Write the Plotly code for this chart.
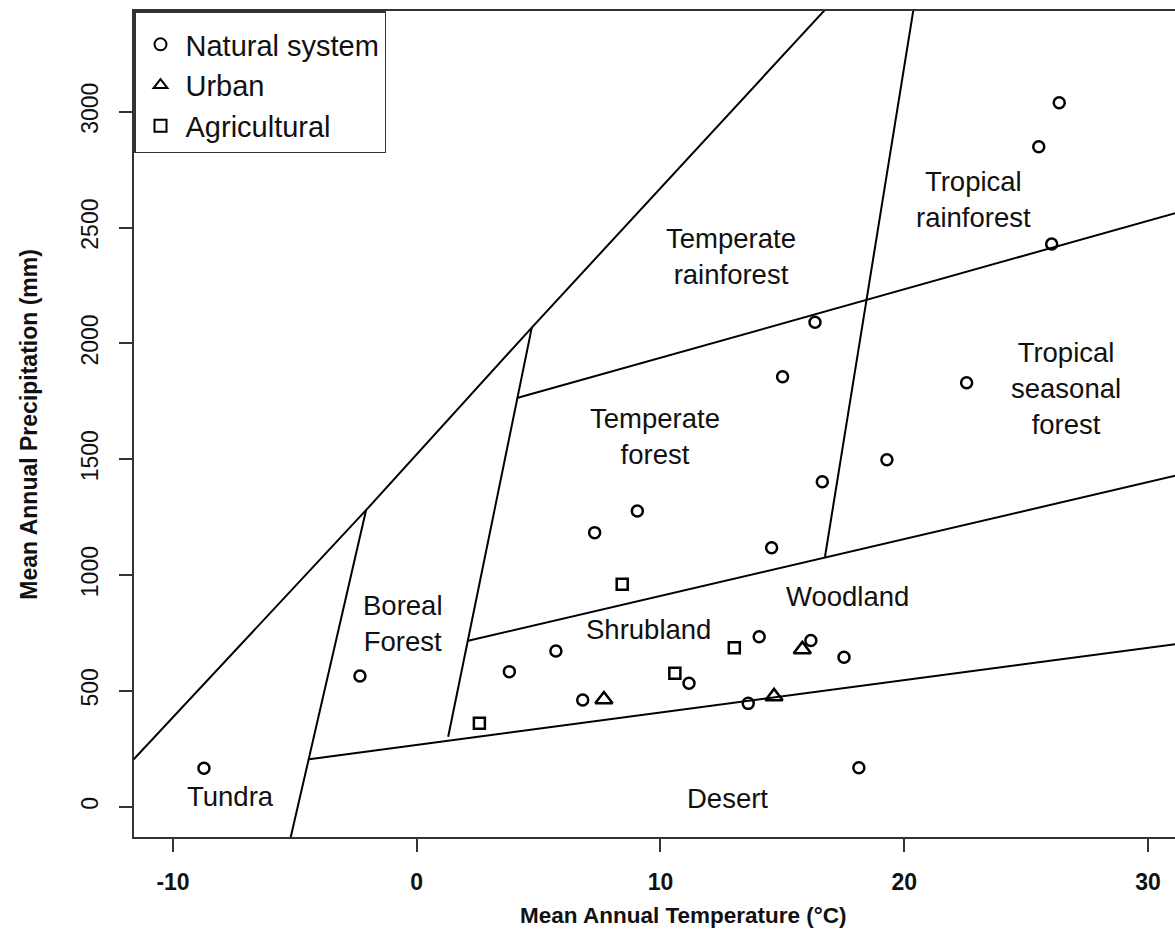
import plotly.graph_objects as go

# ---------------- data ----------------
# Natural system sites (temperature °C, precipitation mm)
natural_temp = [-8.73, -2.33, 3.80, 5.71, 6.81, 7.30, 9.05, 11.17, 13.60, 14.05, 14.56,
                15.01, 16.17, 16.34, 16.64, 17.53, 18.14, 19.29, 22.56, 25.52, 26.05, 26.36]
natural_prec = [166, 564, 583, 672, 461, 1183, 1276, 533, 446, 734, 1118,
                1856, 717, 2091, 1403, 645, 168, 1498, 1830, 2849, 2429, 3039]
# Urban sites
urban_temp = [7.68, 14.66, 15.82]
urban_prec = [463, 476, 679]
# Agricultural sites
agri_temp = [2.57, 8.43, 10.59, 13.03]
agri_prec = [360, 960, 576, 686]

# Biome boundary lines (vertices, temperature / precipitation)
bound_diag_t = [-11.8, -2.08, 4.72, 17.2]
bound_diag_p = [183, 1280, 2068, 3491]
bound_boreal_left_t = [-5.32, -2.08]
bound_boreal_left_p = [-200, 1280]
bound_desert_t = [-4.41, 32.0]
bound_desert_p = [205, 714]
bound_boreal_right_t = [4.72, 1.29]
bound_boreal_right_p = [2068, 302]
bound_shrub_t = [2.11, 32.0]
bound_shrub_p = [716, 1450]
bound_tempforest_t = [4.15, 32.0]
bound_tempforest_p = [1765, 2588]
bound_tropical_t = [20.47, 16.75]
bound_tropical_p = [3500, 1079]

boundaries = [
    (bound_diag_t, bound_diag_p),
    (bound_boreal_left_t, bound_boreal_left_p),
    (bound_desert_t, bound_desert_p),
    (bound_boreal_right_t, bound_boreal_right_p),
    (bound_shrub_t, bound_shrub_p),
    (bound_tempforest_t, bound_tempforest_p),
    (bound_tropical_t, bound_tropical_p),
]

# Biome labels
biome_names = ["Temperate<br>rainforest", "Tropical<br>rainforest", "Tropical<br>seasonal<br>forest",
               "Temperate<br>forest", "Boreal<br>Forest", "Shrubland", "Woodland", "Tundra", "Desert"]
biome_temp = [12.90, 22.83, 26.62, 9.78, -0.58, 9.49, 17.67, -7.64, 12.75]
biome_prec = [2373, 2623, 1803, 1600, 789, 763, 906, 43, 36]

# Axis ticks
x_ticks = [-10, 0, 10, 20, 30]
x_tick_labels = ["-10", "0", "10", "20", "30"]
y_ticks = [0, 500, 1000, 1500, 2000, 2500, 3000]
y_tick_labels = ["0", "500", "1000", "1500", "2000", "2500", "3000"]

FONT = "Liberation Sans, Arial, sans-serif"
INK = "#111111"
AXC = "#333333"

fig = go.Figure()

for bt, bp in boundaries:
    fig.add_trace(go.Scatter(x=bt, y=bp, mode="lines", line=dict(color="black", width=2),
                             showlegend=False, hoverinfo="skip"))

fig.add_trace(go.Scatter(x=natural_temp, y=natural_prec, mode="markers", name="Natural system",
                         marker=dict(symbol="circle-open", size=11, color="black",
                                     line=dict(color="black", width=2.5))))
fig.add_trace(go.Scatter(x=urban_temp, y=urban_prec, mode="markers", name="Urban",
                         marker=dict(symbol="triangle-up-open", size=15, color="black",
                                     line=dict(color="black", width=2.5))))
fig.add_trace(go.Scatter(x=agri_temp, y=agri_prec, mode="markers", name="Agricultural",
                         marker=dict(symbol="square-open", size=11, color="black",
                                     line=dict(color="black", width=2.5))))

for name, t, p in zip(biome_names, biome_temp, biome_prec):
    fig.add_annotation(x=t, y=p, text=name, showarrow=False, xanchor="center", yanchor="middle",
                       font=dict(family=FONT, size=27.5, color=INK))

# axis titles
fig.add_annotation(xref="paper", yref="paper", x=0.528, y=-0.0956, text="Mean Annual Temperature (°C)",
                   showarrow=False, xanchor="center", yanchor="middle",
                   font=dict(family=FONT, size=22.5, color=INK, weight="bold"))
fig.add_annotation(xref="paper", yref="paper", x=-0.1012, y=0.5, text="Mean Annual Precipitation (mm)",
                   showarrow=False, xanchor="center", yanchor="middle", textangle=-90,
                   font=dict(family=FONT, size=23, color=INK, weight="bold"))

fig.update_xaxes(range=[-11.6, 31.11], tickmode="array", tickvals=x_ticks, ticktext=x_tick_labels,
                 ticks="outside", ticklen=13, tickwidth=1.5, tickcolor=AXC,
                 showline=True, linecolor=AXC, linewidth=1.5, mirror=True,
                 showgrid=False, zeroline=False,
                 tickfont=dict(family=FONT, size=23, color=INK, weight="bold"),
                 ticklabelstandoff=11)
fig.update_yaxes(range=[-130.8, 3434.6], tickmode="array", tickvals=y_ticks, ticktext=y_tick_labels,
                 ticks="outside", ticklen=13, tickwidth=1.5, tickcolor=AXC,
                 showline=True, linecolor=AXC, linewidth=1.5, mirror=False,
                 showgrid=False, zeroline=False, tickangle=-90,
                 tickfont=dict(family=FONT, size=23, color=INK),
                 ticklabelstandoff=12)

fig.update_layout(
    width=1175, height=934,
    margin=dict(l=134, r=0, t=11, b=97),
    plot_bgcolor="white", paper_bgcolor="white",
    showlegend=True,
    legend=dict(x=0, y=1, xanchor="left", yanchor="top", bgcolor="white",
                bordercolor=AXC, borderwidth=1.5,
                font=dict(family=FONT, size=29, color=INK),
                title=dict(text=" ", font=dict(size=5)),
                itemsizing="constant", itemwidth=40, tracegroupgap=0),
)

fig.write_html("out.html")
